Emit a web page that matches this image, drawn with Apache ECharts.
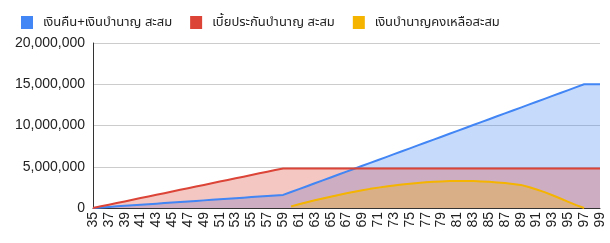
<!DOCTYPE html>
<html>
<head>
<meta charset="utf-8">
<script src="https://cdn.jsdelivr.net/npm/echarts@6/dist/echarts.min.js"></script>
<style>
  html, body { margin: 0; padding: 0; background: #fff; }
  #chart { width: 610px; height: 243px; }
</style>
</head>
<body>
<div id="chart"></div>
<script>
// ========== ข้อมูล ==========
const ages = [];
for (let a = 35; a <= 99; a++) ages.push(String(a));

const seriesNames = ['เงินคืน+เงินบำนาญ สะสม', 'เบี้ยประกันบำนาญ สะสม', 'เงินบำนาญคงเหลือสะสม'];

// เงินคืน+เงินบำนาญ สะสม (อายุ 35..99)
const cashPension = [
  0, 66000, 132000, 198000, 264000, 330000, 396000, 462000, 528000, 594000,
  660000, 726000, 792000, 858000, 924000, 990000, 1056000, 1122000, 1188000, 1254000,
  1320000, 1386000, 1452000, 1518000, 1584000,
  1937000, 2290000, 2643000, 2996000, 3349000, 3702000, 4055000, 4408000, 4761000, 5114000,
  5467000, 5820000, 6173000, 6526000, 6879000, 7232000, 7585000, 7938000, 8291000, 8644000,
  8997000, 9350000, 9703000, 10056000, 10409000, 10762000, 11115000, 11468000, 11821000, 12174000,
  12527000, 12880000, 13233000, 13586000, 13939000, 14292000, 14645000, 15000000, 15000000, 15000000
];

// เบี้ยประกันบำนาญ สะสม
const premium = [
  0, 200000, 400000, 600000, 800000, 1000000, 1200000, 1400000, 1600000, 1800000,
  2000000, 2200000, 2400000, 2600000, 2800000, 3000000, 3200000, 3400000, 3600000, 3800000,
  4000000, 4200000, 4400000, 4600000, 4800000,
  4800000, 4800000, 4800000, 4800000, 4800000, 4800000, 4800000, 4800000, 4800000, 4800000,
  4800000, 4800000, 4800000, 4800000, 4800000, 4800000, 4800000, 4800000, 4800000, 4800000,
  4800000, 4800000, 4800000, 4800000, 4800000, 4800000, 4800000, 4800000, 4800000, 4800000,
  4800000, 4800000, 4800000, 4800000, 4800000, 4800000, 4800000, 4800000, 4800000, 4800000
];

// เงินบำนาญคงเหลือสะสม (เริ่มอายุ 60 ถึง 97)
const remaining = [
  null, null, null, null, null, null, null, null, null, null,
  null, null, null, null, null, null, null, null, null, null,
  null, null, null, null, null,
  200000, 450000, 700000, 930000, 1150000, 1370000, 1580000, 1780000, 1970000, 2150000,
  2320000, 2470000, 2610000, 2730000, 2840000, 2940000, 3030000, 3110000, 3170000, 3220000,
  3260000, 3280000, 3280000, 3260000, 3220000, 3170000, 3100000, 3020000, 2920000, 2800000,
  2550000, 2250000, 1920000, 1550000, 1150000, 750000, 350000, 0, null, null
];

const yTicks = [0, 5000000, 10000000, 15000000, 20000000];
const colors = ['#4285f4', '#db4437', '#f4b400'];

const fmt = (v) => String(v).replace(/\B(?=(\d{3})+(?!\d))/g, ',');
const FONT = 'Arial, "Liberation Sans", "Noto Sans Thai", "Noto Sans", sans-serif';

// ========== ECharts ==========
const chart = echarts.init(document.getElementById('chart'));

const areaSeries = (name, data, color) => ({
  name: name,
  type: 'line',
  data: data,
  symbol: 'none',
  lineStyle: { width: 2, color: color },
  itemStyle: { color: color },
  areaStyle: { color: color, opacity: 0.3 },
  animation: false
});

chart.setOption({
  color: colors,
  textStyle: { fontFamily: FONT },
  legend: {
    top: 11,
    left: 16,
    icon: 'rect',
    itemWidth: 12,
    itemHeight: 13,
    itemGap: 18,
    textStyle: { fontSize: 13, color: '#222', fontFamily: FONT, padding: [0, 0, 0, 5] },
    data: seriesNames
  },
  grid: { left: 93, right: 10, top: 43, bottom: 35, containLabel: false },
  xAxis: {
    type: 'category',
    boundaryGap: false,
    data: ages,
    axisLine: { lineStyle: { color: '#333', width: 1 } },
    axisTick: { show: false },
    axisLabel: {
      interval: 1,
      rotate: 90,
      margin: 4,
      fontSize: 14,
      color: '#222',
      fontFamily: FONT
    }
  },
  yAxis: {
    type: 'value',
    min: yTicks[0],
    max: yTicks[yTicks.length - 1],
    interval: 5000000,
    axisLine: { show: true, lineStyle: { color: '#333', width: 1 } },
    axisTick: { show: false },
    splitLine: { lineStyle: { color: '#ccc', width: 1 } },
    axisLabel: {
      formatter: (v) => fmt(v),
      fontSize: 14,
      margin: 8,
      color: '#222',
      fontFamily: FONT
    }
  },
  series: [
    areaSeries(seriesNames[0], cashPension, colors[0]),
    areaSeries(seriesNames[1], premium, colors[1]),
    areaSeries(seriesNames[2], remaining, colors[2])
  ]
});
</script>
</body>
</html>
